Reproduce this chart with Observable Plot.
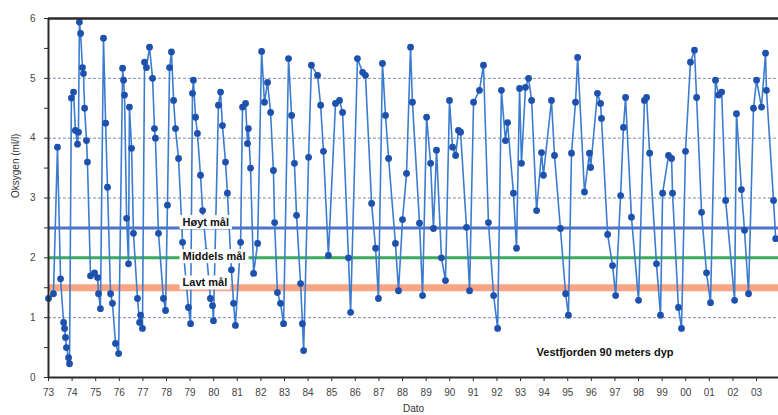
<!DOCTYPE html>
<html><head><meta charset="utf-8">
<script src="https://cdn.jsdelivr.net/npm/d3@7"></script>
<script src="https://cdn.jsdelivr.net/npm/@observablehq/plot@0.6"></script>
<style>
html,body{margin:0;padding:0;background:#fff;overflow:hidden}
</style></head><body><div id="chart"></div>
<script>
// Measurement dates (decimal years) and oxygen values (ml/l)
const dates = [
  1973.00,1973.21,1973.38,1973.51,1973.64,1973.68,1973.72,1973.76,1973.85,1973.89,1973.97,
  1974.06,1974.14,1974.23,1974.27,1974.31,1974.36,1974.44,1974.48,1974.53,1974.61,1974.65,1974.78,1974.95,
  1975.08,1975.12,1975.20,1975.33,1975.42,1975.50,1975.63,1975.71,1975.84,1975.97,
  1976.14,1976.18,1976.22,1976.31,1976.39,1976.43,1976.52,1976.60,1976.77,1976.86,1976.90,1976.98,
  1977.07,1977.15,1977.28,1977.41,1977.49,1977.53,1977.66,1977.87,1977.96,
  1978.04,1978.13,1978.21,1978.30,1978.38,1978.51,1978.68,1978.93,
  1979.02,1979.10,1979.14,1979.23,1979.31,1979.44,1979.53,1979.69,1979.86,1979.95,1979.99,
  1980.20,1980.29,1980.37,1980.50,1980.58,1980.75,1980.84,1980.92,
  1981.14,1981.22,1981.35,1981.43,1981.47,1981.56,1981.69,1981.86,
  1982.03,1982.15,1982.28,1982.41,1982.53,1982.58,1982.70,1982.83,1982.96,
  1983.17,1983.30,1983.42,1983.51,1983.68,1983.76,1983.81,
  1984.02,1984.14,1984.40,1984.53,1984.65,1984.86,
  1985.16,1985.33,1985.46,1985.71,1985.80,
  1986.09,1986.31,1986.43,1986.69,1986.86,1986.98,
  1987.15,1987.28,1987.41,1987.70,1987.83,
  1988.00,1988.17,1988.34,1988.42,1988.72,1988.85,
  1989.02,1989.19,1989.31,1989.44,1989.65,1989.82,1989.99,
  1990.12,1990.25,1990.37,1990.46,1990.71,1990.84,
  1991.01,1991.26,1991.43,1991.64,1991.86,
  1992.03,1992.19,1992.36,1992.45,1992.70,1992.83,1992.96,
  1993.04,1993.21,1993.34,1993.47,1993.68,1993.89,1993.97,
  1994.31,1994.44,1994.69,1994.91,
  1995.03,1995.16,1995.33,1995.42,1995.71,1995.92,1995.97,
  1996.26,1996.39,1996.43,1996.69,1996.90,
  1997.03,1997.24,1997.36,1997.45,1997.70,
  1998.00,1998.25,1998.34,1998.47,1998.76,1998.93,
  1999.02,1999.27,1999.40,1999.44,1999.69,1999.82,1999.99,
  2000.20,2000.37,2000.46,2000.67,2000.88,
  2001.05,2001.26,2001.39,2001.52,2001.69,
  2002.07,2002.15,2002.36,2002.49,2002.66,2002.87,
  2003.00,2003.21,2003.38,2003.42,2003.72,2003.81
];
const oxygen = [
  1.32,1.40,3.85,1.65,0.92,0.82,0.67,0.50,0.33,0.23,4.67,
  4.77,4.13,3.90,4.10,5.94,5.75,5.18,5.08,4.50,3.96,3.60,1.70,1.75,
  1.67,1.40,1.15,5.67,4.25,3.18,1.40,1.24,0.57,0.40,
  5.17,4.97,4.72,2.66,1.90,4.52,3.83,2.41,1.32,0.92,1.04,0.82,
  5.27,5.18,5.52,5.00,4.16,4.00,2.41,1.32,1.12,
  2.88,5.18,5.44,4.63,4.16,3.66,2.26,1.17,
  0.90,4.75,4.97,4.35,4.08,3.38,2.79,2.10,1.32,1.20,0.95,
  4.55,4.77,4.21,3.60,3.08,1.80,1.24,0.87,
  2.26,4.52,4.58,3.91,4.16,3.50,1.74,2.24,
  5.45,4.60,4.93,4.43,3.46,2.59,1.42,1.24,0.90,
  5.33,4.38,3.58,2.71,1.57,0.90,0.45,
  3.68,5.22,5.05,4.55,3.78,2.04,
  4.58,4.63,4.43,2.00,1.09,
  5.33,5.10,5.05,2.91,2.16,1.32,
  5.25,4.38,3.66,2.24,1.45,
  2.64,3.41,5.52,4.60,2.58,1.37,
  4.35,3.58,2.49,3.80,2.00,1.62,4.63,
  3.85,3.71,4.13,4.10,2.51,1.45,
  4.60,4.80,5.22,2.59,1.37,
  0.82,4.80,3.96,4.26,3.08,2.16,4.83,
  3.58,4.85,5.00,4.63,2.79,3.76,3.38,
  4.63,3.71,2.49,1.40,
  1.04,3.75,4.60,5.35,3.10,3.75,3.51,
  4.75,4.58,4.33,2.39,1.87,
  1.37,3.04,4.18,4.68,2.68,
  1.29,4.63,4.68,3.75,1.90,1.04,
  3.08,3.71,3.66,3.08,1.17,0.82,3.78,
  5.27,5.47,4.68,2.76,1.75,
  1.25,4.97,4.72,4.77,2.96,
  1.29,4.41,3.14,2.46,1.40,4.50,
  4.97,4.52,5.42,4.80,2.96,2.32
];

const yearTicks = d3.range(1973, 2004);
const yearLabels = ["73","74","75","76","77","78","79","80","81","82","83","84","85","86","87","88","89","90","91","92","93","94","95","96","97","98","99","00","01","02","03"];
const yTicks = [0,1,2,3,4,5,6];
const yTickLabels = ["0","1","2","3","4","5","6"];
const yMinorTicks = [0.5,1.5,2.5,3.5,4.5,5.5];
const gridValues = [1,2,3,4,5];

const targetNames = ["Høyt mål","Middels mål","Lavt mål"];
const targetLevels = [2.5, 2.0, 1.5];
const targetColors = ["#4f73c6","#3da95c","#f8a585"];
const targetWidths = [3, 3, 7];
const labelYears = [1978.68, 1978.68, 1978.68];
const labelValues = [2.59, 2.02, 1.58];

const stationText = "Vestfjorden 90 meters dyp";
const stationPos = {year: 1993.68, value: 0.42};

const xTitle = "Dato";
const yTitle = "Oksygen (ml/l)";

const obs = dates.map((t, i) => ({t, v: oxygen[i]}));
const targets = targetNames.map((name, i) => ({name, level: targetLevels[i], color: targetColors[i], w: targetWidths[i], lx: labelYears[i], ly: labelValues[i]}));

const font = "'Liberation Sans', Arial, sans-serif";

const chart = Plot.plot({
  width: 778,
  height: 415,
  marginTop: 18,
  marginBottom: 38,
  marginLeft: 48,
  marginRight: 0,
  style: {fontFamily: font, fontSize: "10px", color: "#333", background: "#fff", overflow: "visible"},
  x: {domain: [1973, 2003.93]},
  y: {domain: [0, 6]},
  marks: [
    Plot.ruleY(gridValues, {stroke: "#7d8ea3", strokeDasharray: "3,2", strokeWidth: 1}),
    ...targets.map(t => Plot.ruleY([t.level], {stroke: t.color, strokeWidth: t.w})),
    Plot.line(obs, {x: "t", y: "v", stroke: "#3c7cd0", strokeWidth: 1.6}),
    Plot.dot(obs, {x: "t", y: "v", r: 3.4, fill: "#1d51ad", stroke: "none"}),
    Plot.ruleY([6], {stroke: "#2b2b2b", strokeWidth: 2.5}),
    Plot.ruleY([0], {stroke: "#2b2b2b", strokeWidth: 2}),
    Plot.ruleX([1973], {stroke: "#2b2b2b", strokeWidth: 2}),
    Plot.axisX({ticks: yearTicks, tickFormat: d => yearLabels[yearTicks.indexOf(d)], tickSize: 4, tickPadding: 7, label: null, stroke: "#2b2b2b", fill: "#444"}),
    Plot.axisY({ticks: yTicks, tickFormat: d => yTickLabels[yTicks.indexOf(d)], tickSize: 4, tickPadding: 9, label: null, stroke: "#2b2b2b", fill: "#444"}),
    Plot.axisY({ticks: yMinorTicks, tickSize: 4, tickFormat: () => "", label: null, stroke: "#2b2b2b"}),
    Plot.text(targets, {x: "lx", y: "ly", text: "name", textAnchor: "start", fill: "#111", fontWeight: "bold", fontSize: 11}),
    Plot.text([stationText], {x: () => stationPos.year, y: () => stationPos.value, text: d => d, textAnchor: "start", fill: "#111", fontWeight: "bold", fontSize: 11}),
    Plot.text([yTitle], {frameAnchor: "left", dx: -33, rotate: -90, text: d => d, fill: "#333", fontSize: 10}),
    Plot.text([xTitle], {frameAnchor: "bottom", dy: 34, text: d => d, fill: "#333", fontSize: 10})
  ]
});

document.getElementById("chart").appendChild(chart);

// White boxes behind the target labels
chart.querySelectorAll("text").forEach(el => {
  if (targetNames.includes(el.textContent)) {
    const b = el.getBBox();
    const r = document.createElementNS("http://www.w3.org/2000/svg", "rect");
    r.setAttribute("x", b.x - 3);
    r.setAttribute("y", b.y - 1);
    r.setAttribute("width", b.width + 6);
    r.setAttribute("height", b.height + 2);
    r.setAttribute("fill", "#fff");
    const tr = el.getAttribute("transform");
    if (tr) r.setAttribute("transform", tr);
    el.parentNode.insertBefore(r, el);
  }
});
</script>
</body></html>
